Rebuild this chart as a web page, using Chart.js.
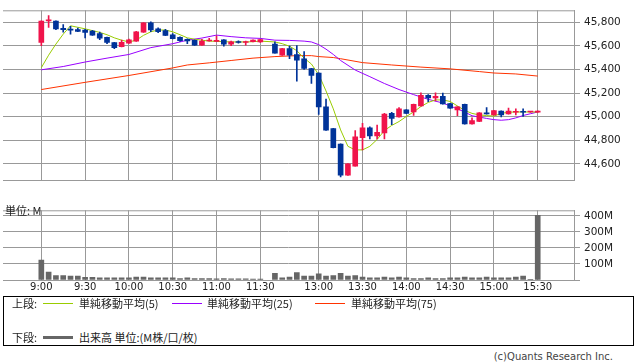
<!DOCTYPE html>
<html>
<head>
<meta charset="utf-8">
<script src="https://cdn.jsdelivr.net/npm/chart.js@4.4.1/dist/chart.umd.min.js"></script>
<style>
	body { margin: 0; background: #fff; }
	#wrap { position: relative; width: 638px; height: 362px; overflow: hidden; font-family: "DejaVu Sans", "Noto Sans CJK JP", sans-serif; color: #222; }
	canvas { position: absolute; left: 0; }
	.txt { position: absolute; font-size: 11px; line-height: 14px; white-space: nowrap; font-family: "Noto Sans CJK JP", "DejaVu Sans", sans-serif; }
	.swatch { position: absolute; height: 1px; width: 30px; }
	#legend { position: absolute; left: 3px; top: 296px; width: 629px; height: 48px; border: 1px solid #000; }
	#copy { position: absolute; right: 25px; top: 351px; font-size: 10px; color: #444; }
</style>
</head>
<body>
<div id="wrap">
	<canvas id="price" width="638" height="191" style="top:0"></canvas>
	<canvas id="volume" width="638" height="96" style="top:200px"></canvas>
	<div class="txt" style="left:5px; top:203px;">単位: M</div>
	<div id="legend"></div>
	<div class="txt" style="left:12px; top:296px;">上段:</div>
	<div class="swatch" style="left:43px; top:303px; background:#99cc00"></div>
	<div class="txt" style="left:79px; top:296px;">単純移動平均(5)</div>
	<div class="swatch" style="left:172px; top:303px; background:#9900ff"></div>
	<div class="txt" style="left:207px; top:296px;">単純移動平均(25)</div>
	<div class="swatch" style="left:315px; top:303px; background:#ff3300"></div>
	<div class="txt" style="left:351px; top:296px;">単純移動平均(75)</div>
	<div class="txt" style="left:12px; top:330px;">下段:</div>
	<div class="swatch" style="left:43px; top:336px; height:3px; background:#666"></div>
	<div class="txt" style="left:79px; top:330px;">出来高 単位:(M株/口/枚)</div>
	<div id="copy">(c)Quants Research Inc.</div>
</div>
<script>
// 5-minute candles, morning session then afternoon session
const times = [
	"9:00", "9:05", "9:10", "9:15", "9:20", "9:25", "9:30", "9:35", "9:40", "9:45",
	"9:50", "9:55", "10:00", "10:05", "10:10", "10:15", "10:20", "10:25", "10:30", "10:35",
	"10:40", "10:45", "10:50", "10:55", "11:00", "11:05", "11:10", "11:15", "11:20", "11:25",
	"11:30",
	"12:30", "12:35", "12:40", "12:45", "12:50", "12:55", "13:00", "13:05", "13:10", "13:15",
	"13:20", "13:25", "13:30", "13:35", "13:40", "13:45", "13:50", "13:55", "14:00", "14:05",
	"14:10", "14:15", "14:20", "14:25", "14:30", "14:35", "14:40", "14:45", "14:50", "14:55",
	"15:00", "15:05", "15:10", "15:15", "15:20", "15:25", "15:30",
];
const open = [
	45630, 45812, 45810, 45749, 45742, 45737, 45734, 45724, 45704, 45673,
	45628, 45592, 45623, 45640, 45716, 45795, 45744, 45729, 45694, 45673,
	45656, 45646, 45605, 45641, 45638, 45651, 45615, 45636, 45628, 45635,
	45633,
	45615, 45521, 45577, 45527, 45491, 45408, 45370, 45083, 44899, 44769,
	44504, 44582, 44823, 44906, 44838, 44863, 45028, 44999, 45058, 45040,
	45091, 45180, 45159, 45172, 45111, 45058, 45104, 44939, 44959, 45033,
	45015, 45048, 45023, 45038, 45043, 45040, 45038,
];
const high = [
	45812, 45856, 45812, 45780, 45765, 45750, 45740, 45732, 45716, 45675,
	45630, 45648, 45658, 45722, 45798, 45803, 45752, 45739, 45704, 45676,
	45660, 45650, 45656, 45663, 45684, 45654, 45640, 45643, 45640, 45650,
	45656,
	45635, 45579, 45597, 45603, 45552, 45410, 45372, 45149, 44901, 44771,
	44602, 44883, 44944, 44914, 44929, 45028, 45038, 45078, 45060, 45106,
	45202, 45187, 45202, 45200, 45113, 45085, 45106, 44990, 45035, 45078,
	45053, 45050, 45073, 45066, 45066, 45044, 45050,
];
const low = [
	45602, 45757, 45737, 45716, 45699, 45720, 45668, 45688, 45653, 45618,
	45577, 45590, 45620, 45638, 45714, 45719, 45711, 45686, 45658, 45638,
	45618, 45603, 45603, 45640, 45636, 45597, 45602, 45623, 45605, 45633,
	45630,
	45537, 45519, 45491, 45301, 45400, 45281, 45020, 44884, 44735, 44491,
	44502, 44580, 44719, 44812, 44812, 44812, 44932, 44997, 45026, 45010,
	45089, 45127, 45134, 45107, 45071, 45008, 44937, 44937, 44957, 45021,
	45013, 44999, 45021, 45015, 45003, 45036, 45036,
];
const close = [
	45810, 45818, 45744, 45737, 45732, 45722, 45714, 45691, 45666, 45630,
	45585, 45630, 45651, 45719, 45795, 45734, 45719, 45689, 45661, 45643,
	45641, 45605, 45640, 45648, 45643, 45615, 45633, 45628, 45636, 45648,
	45653,
	45539, 45577, 45521, 45478, 45408, 45349, 45083, 44886, 44737, 44504,
	44600, 44830, 44906, 44838, 44868, 45023, 44985, 45066, 45028, 45104,
	45180, 45159, 45172, 45109, 45073, 45083, 44939, 44967, 45033, 45023,
	45051, 45015, 45048, 45043, 45038, 45040, 45048,
];
const volume = [ // M
	124, 50, 28, 28, 24, 24, 17, 17, 13, 13,
	13, 13, 13, 18, 18, 13, 13, 13, 13, 9,
	13, 9, 9, 9, 7, 9, 7, 7, 7, 6,
	6,
	41, 13, 18, 46, 24, 24, 39, 24, 28, 41,
	24, 28, 18, 13, 13, 18, 13, 18, 13, 9,
	9, 13, 9, 9, 13, 13, 18, 13, 13, 18,
	13, 13, 13, 18, 24, 4, 403,
];
const ma5 = [
	45415, 45521, 45615, 45699, 45770, 45757, 45744, 45729, 45714, 45694,
	45668, 45648, 45633, 45648, 45689, 45719, 45734, 45734, 45719, 45694,
	45668, 45656, 45648, 45640, 45638, 45635, 45633, 45633, 45633, 45635,
	45640,
	45633, 45618, 45597, 45559, 45496, 45446, 45357, 45218, 45066, 44888,
	44749, 44719, 44719, 44749, 44807, 44883, 44926, 44959, 45002, 45040,
	45086, 45121, 45142, 45142, 45129, 45091, 45053, 45028, 45015, 45010,
	45005, 45028, 45038, 45040, 45040, 45040, 45040,
];
const ma25Times = [
	"9:00", "9:15", "9:30", "9:45", "10:00", "10:15", "10:30", "10:40", "10:50", "11:00",
	"11:10", "11:20", "11:30", "12:30", "12:40", "12:50", "12:55", "13:00", "13:05", "13:10",
	"13:15", "13:25", "13:35", "13:45", "13:55", "14:05", "14:15", "14:25", "14:35", "14:40",
	"14:45", "14:50", "14:55", "15:00", "15:05", "15:10", "15:15", "15:20", "15:25", "15:30",
];
const ma25 = [
	45397, 45425, 45463, 45496, 45527, 45585, 45618, 45648, 45666, 45691,
	45678, 45668, 45663, 45648, 45646, 45640, 45633, 45610, 45572, 45527,
	45476, 45395, 45339, 45281, 45230, 45187, 45147, 45116, 45066, 45040,
	45008, 44997, 44985, 44975, 44970, 44975, 44990, 45010, 45025, 45040,
];
const ma75Times = [
	"9:00", "9:30", "10:00", "10:30", "10:40", "10:55", "11:10", "11:25", "12:30", "12:45",
	"12:55", "13:00", "13:10", "13:15", "13:30", "13:50", "14:10", "14:30", "14:50", "15:00",
	"15:15", "15:30",
];
const ma75 = [
	45230, 45291, 45349, 45413, 45438, 45456, 45476, 45496, 45509, 45517,
	45517, 45509, 45501, 45491, 45458, 45438, 45420, 45405, 45382, 45370,
	45362, 45344,
];
const tickLabels = ["9:00", "9:30", "10:00", "10:30", "11:00", "11:30", "13:00", "13:30", "14:00", "14:30", "15:00", "15:30"];
const priceTicks = [44600, 44800, 45000, 45200, 45400, 45600, 45800];
const volumeTicks = [0, 100, 200, 300, 400];

const UP = "#f0144b";
const DOWN = "#003399";
const GRID = "#999";
const X_FONT = { family: "DejaVu Sans", size: 10 };
const Y_FONT = { family: "DejaVu Sans", size: 10.5 };

// x position: one slot per 5 minutes, lunch break squeezed to a single empty slot
const slotOf = (t) => {
	const [h, m] = t.split(":").map(Number);
	const mins = h * 60 + m;
	return mins <= 690 ? (mins - 540) / 5 : (mins - 750) / 5 + 32;
};
const slots = times.map(slotOf);
const colors = close.map((c, i) => (c >= open[i] ? UP : DOWN));

const xRange = { min: -5.25, max: 72.97 };

const topBorder = {
	id: "topBorder",
	afterDraw(chart) {
		const { ctx, chartArea } = chart;
		ctx.save();
		ctx.strokeStyle = GRID;
		ctx.lineWidth = 1;
		ctx.beginPath();
		ctx.moveTo(chartArea.left, chartArea.top + 0.5);
		ctx.lineTo(chartArea.right, chartArea.top + 0.5);
		ctx.stroke();
		ctx.restore();
	},
};

const timeAxis = (showLabels, height) => ({
	type: "linear",
	min: xRange.min,
	max: xRange.max,
	offset: false,
	grid: { color: GRID, offset: false, drawTicks: false },
	border: { color: GRID },
	afterBuildTicks: (scale) => {
		scale.ticks = tickLabels.map((t) => ({ value: slotOf(t) }));
	},
	afterFit: (scale) => {
		scale.height = height;
	},
	ticks: {
		display: showLabels,
		padding: 1,
		maxRotation: 0,
		autoSkip: false,
		color: "#222",
		font: X_FONT,
		callback: (v) => tickLabels.find((t) => slotOf(t) === v) || "",
	},
});

const valueAxis = (min, max, tickValues, format) => ({
	position: "right",
	min: min,
	max: max,
	grid: { color: GRID, tickLength: 6 },
	border: { color: GRID },
	afterBuildTicks: (scale) => {
		scale.ticks = tickValues.map((v) => ({ value: v }));
	},
	afterFit: (scale) => {
		scale.width = 64;
	},
	ticks: { padding: 4, color: "#222", font: Y_FONT, callback: format },
});

new Chart(document.getElementById("price"), {
	type: "bar",
	data: {
		datasets: [
			{
				label: "body",
				data: slots.map((x, i) => ({ x: x, y: [open[i], close[i]] })),
				backgroundColor: colors,
				barThickness: 5,
				minBarLength: 1,
				grouped: false,
				order: 0,
			},
			{
				label: "wick",
				data: slots.map((x, i) => ({ x: x, y: [low[i], high[i]] })),
				backgroundColor: colors,
				barThickness: 1,
				grouped: false,
				order: 1,
			},
			{
				type: "line",
				label: "MA5",
				data: slots.map((x, i) => ({ x: x, y: ma5[i] })),
				borderColor: "#99cc00",
				borderWidth: 1,
				pointRadius: 0,
				order: 2,
			},
			{
				type: "line",
				label: "MA25",
				data: ma25Times.map((t, i) => ({ x: slotOf(t), y: ma25[i] })),
				borderColor: "#9900ff",
				borderWidth: 1,
				pointRadius: 0,
				order: 3,
			},
			{
				type: "line",
				label: "MA75",
				data: ma75Times.map((t, i) => ({ x: slotOf(t), y: ma75[i] })),
				borderColor: "#ff3300",
				borderWidth: 1,
				pointRadius: 0,
				order: 4,
			},
		],
	},
	options: {
		responsive: false,
		devicePixelRatio: 1,
		animation: false,
		layout: { padding: { left: 3, top: 0, right: 0, bottom: 1 } },
		plugins: { legend: { display: false }, tooltip: { enabled: false } },
		scales: {
			x: timeAxis(false, 0),
			y: valueAxis(44458, 45901, priceTicks, (v) => v.toLocaleString("en-US")),
		},
	},
	plugins: [topBorder],
});

new Chart(document.getElementById("volume"), {
	type: "bar",
	data: {
		datasets: [
			{
				label: "出来高",
				data: slots.map((x, i) => ({ x: x, y: volume[i] })),
				backgroundColor: "#666",
				barThickness: 5,
			},
		],
	},
	options: {
		responsive: false,
		devicePixelRatio: 1,
		animation: false,
		layout: { padding: { left: 3, top: 1, right: 0, bottom: 0 } },
		plugins: { legend: { display: false }, tooltip: { enabled: false } },
		scales: {
			x: timeAxis(true, 16),
			y: valueAxis(0, 435, volumeTicks, (v) => (v === 0 ? "" : v + "M")),
		},
	},
	plugins: [topBorder],
});
</script>
</body>
</html>
